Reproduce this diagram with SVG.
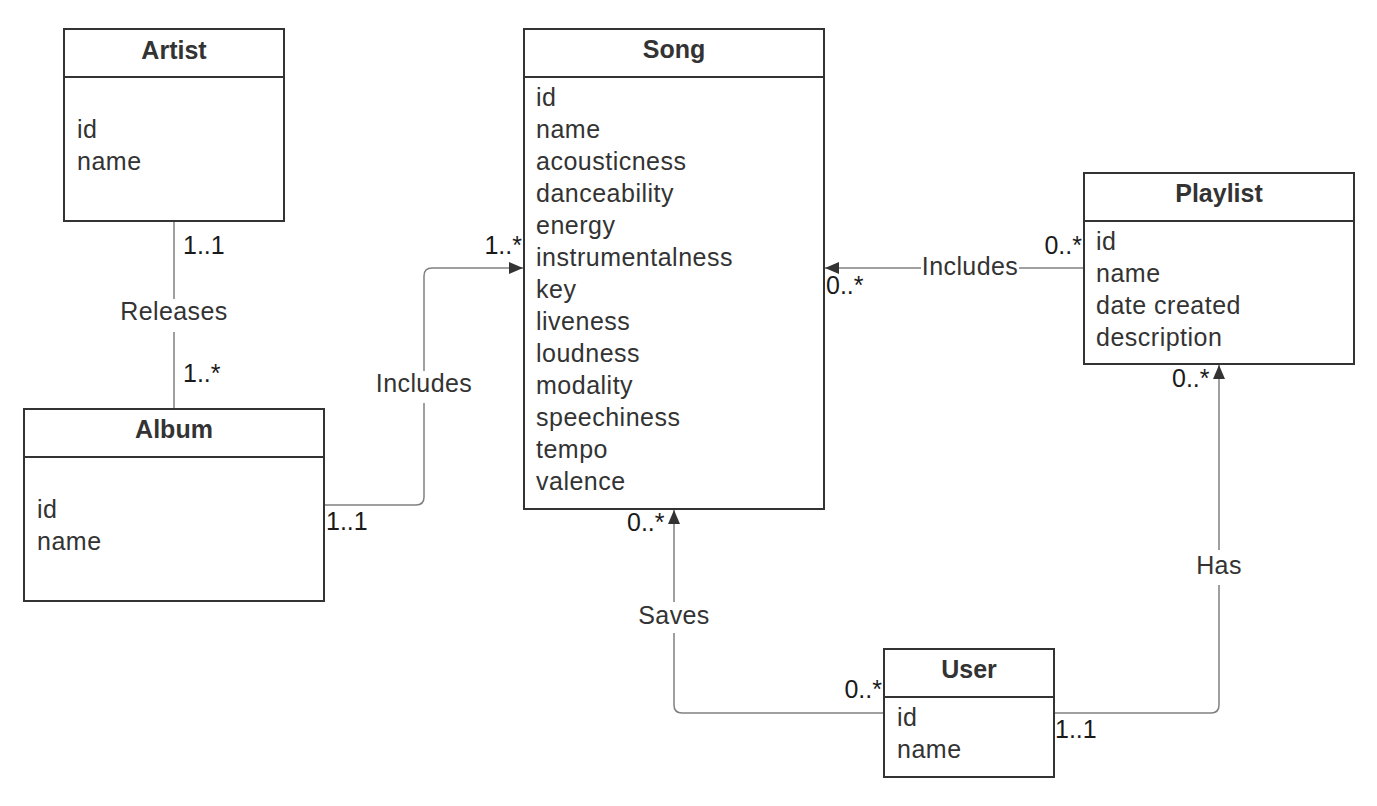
<svg xmlns="http://www.w3.org/2000/svg" width="1377" height="806" viewBox="0 0 1377 806">
  <style>
    .box { fill: #ffffff; stroke: #333333; stroke-width: 2; }
    .sep { stroke: #333333; stroke-width: 2; }
    .title { font-family: "Liberation Sans", Arial, sans-serif; font-size: 25px; font-weight: bold; fill: #333333; text-anchor: middle; }
    .attr { font-family: "Liberation Sans", Arial, sans-serif; font-size: 25px; fill: #333333; letter-spacing: 0.5px; }
    .conn { fill: none; stroke: #808080; stroke-width: 1.5; }
    .lbl { font-family: "Liberation Sans", Arial, sans-serif; font-size: 25px; fill: #333333; text-anchor: middle; letter-spacing: 0.4px; }
    .lblbg { fill: #ffffff; stroke: none; }
    .mult { font-family: "Liberation Sans", Arial, sans-serif; font-size: 25px; fill: #1a1a1a; }
  </style>
  <defs>
    <marker id="arrow" viewBox="0 0 14 12" refX="14" refY="6" markerWidth="14" markerHeight="12" markerUnits="userSpaceOnUse" orient="auto">
      <path d="M0,0 L14,6 L0,12 z" fill="#333333"/>
    </marker>
  </defs>
  <rect width="1377" height="806" fill="#ffffff"/>

  <g id="connectors">
    <path class="conn" d="M174,221 V409"/>
    <path class="conn" d="M324,505 H416 Q424,505 424,497 V276 Q424,268 432,268 H523" marker-end="url(#arrow)"/>
    <path class="conn" d="M1084,268 H825" marker-end="url(#arrow)"/>
    <path class="conn" d="M884,713 H682 Q674,713 674,705 V510" marker-end="url(#arrow)"/>
    <path class="conn" d="M1054,713 H1211 Q1219,713 1219,705 V365" marker-end="url(#arrow)"/>

    <rect class="lblbg" x="118" y="299" width="112" height="33"/>
    <text class="lbl" x="174" y="320">Releases</text>
    <rect class="lblbg" x="375" y="371" width="98" height="32"/>
    <text class="lbl" x="424" y="392">Includes</text>
    <rect class="lblbg" x="921" y="254" width="98" height="30"/>
    <text class="lbl" x="970" y="275">Includes</text>
    <rect class="lblbg" x="636" y="602" width="76" height="31"/>
    <text class="lbl" x="674" y="624">Saves</text>
    <rect class="lblbg" x="1194" y="550" width="50" height="35"/>
    <text class="lbl" x="1219" y="574">Has</text>

    <text class="mult" x="183" y="254">1..1</text>
    <text class="mult" x="183" y="382">1..*</text>
    <text class="mult" x="522" y="254" text-anchor="end">1..*</text>
    <text class="mult" x="326" y="530">1..1</text>
    <text class="mult" x="1082" y="254" text-anchor="end">0..*</text>
    <text class="mult" x="826" y="294">0..*</text>
    <text class="mult" x="627" y="531">0..*</text>
    <text class="mult" x="1172" y="387">0..*</text>
    <text class="mult" x="882" y="698" text-anchor="end">0..*</text>
    <text class="mult" x="1055" y="738">1..1</text>
  </g>

  <g id="artist">
    <rect class="box" x="64" y="29" width="220" height="192"/>
    <line class="sep" x1="64" y1="77" x2="284" y2="77"/>
    <text class="title" x="174" y="59">Artist</text>
    <text class="attr" x="77" y="138">id</text>
    <text class="attr" x="77" y="170">name</text>
  </g>

  <g id="album">
    <rect class="box" x="24" y="409" width="300" height="192"/>
    <line class="sep" x1="24" y1="457" x2="324" y2="457"/>
    <text class="title" x="174" y="438">Album</text>
    <text class="attr" x="37" y="518">id</text>
    <text class="attr" x="37" y="550">name</text>
  </g>

  <g id="song">
    <rect class="box" x="524" y="29" width="300" height="480"/>
    <line class="sep" x1="524" y1="77" x2="824" y2="77"/>
    <text class="title" x="674" y="58">Song</text>
    <text class="attr" x="536" y="106">id</text>
    <text class="attr" x="536" y="138">name</text>
    <text class="attr" x="536" y="170">acousticness</text>
    <text class="attr" x="536" y="202">danceability</text>
    <text class="attr" x="536" y="234">energy</text>
    <text class="attr" x="536" y="266">instrumentalness</text>
    <text class="attr" x="536" y="298">key</text>
    <text class="attr" x="536" y="330">liveness</text>
    <text class="attr" x="536" y="362">loudness</text>
    <text class="attr" x="536" y="394">modality</text>
    <text class="attr" x="536" y="426">speechiness</text>
    <text class="attr" x="536" y="458">tempo</text>
    <text class="attr" x="536" y="490">valence</text>
  </g>

  <g id="playlist">
    <rect class="box" x="1084" y="173" width="270" height="191"/>
    <line class="sep" x1="1084" y1="221" x2="1354" y2="221"/>
    <text class="title" x="1219" y="202">Playlist</text>
    <text class="attr" x="1096" y="250">id</text>
    <text class="attr" x="1096" y="282">name</text>
    <text class="attr" x="1096" y="314">date created</text>
    <text class="attr" x="1096" y="346">description</text>
  </g>

  <g id="user">
    <rect class="box" x="884" y="649" width="170" height="128"/>
    <line class="sep" x1="884" y1="697" x2="1054" y2="697"/>
    <text class="title" x="969" y="678">User</text>
    <text class="attr" x="897" y="726">id</text>
    <text class="attr" x="897" y="758">name</text>
  </g>
</svg>
